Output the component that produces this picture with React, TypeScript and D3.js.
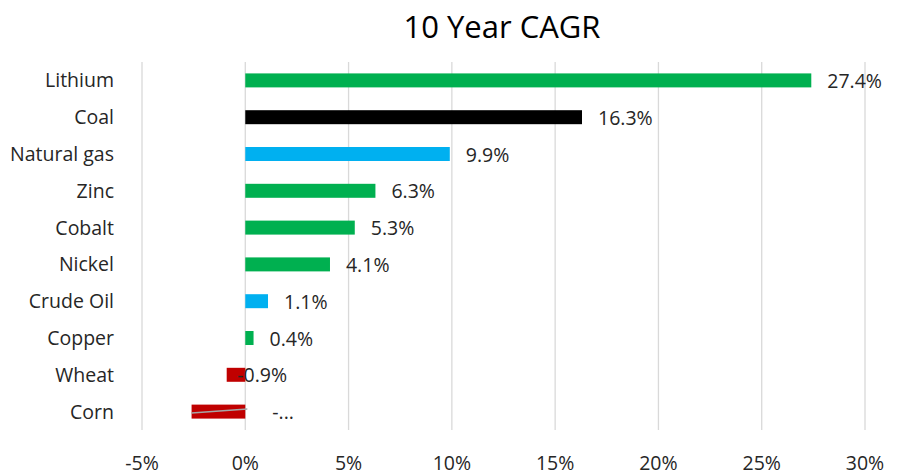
import React from "react";
import * as d3 from "d3";

const categories = ["Lithium", "Coal", "Natural gas", "Zinc", "Cobalt", "Nickel", "Crude Oil", "Copper", "Wheat", "Corn"];
const values = [27.4, 16.3, 9.9, 6.3, 5.3, 4.1, 1.1, 0.4, -0.9, -2.6];
const labels = ["27.4%", "16.3%", "9.9%", "6.3%", "5.3%", "4.1%", "1.1%", "0.4%", "-0.9%", "-..."];
const colors = ["#00B050", "#000000", "#00B0F0", "#00B050", "#00B050", "#00B050", "#00B0F0", "#00B050", "#C00000", "#C00000"];
const ticks = [-5, 0, 5, 10, 15, 20, 25, 30];

const W = 913, H = 476;
const FONT = "'Open Sans', 'Liberation Sans', sans-serif";

export default function App() {
  const x = d3.scaleLinear().domain([-5, 30]).range([142, 865]);
  const y = d3.scaleBand().domain(categories).range([62, 430]).paddingInner(0.62).paddingOuter(0.31);
  const bw = y.bandwidth();
  return (
    <svg width={W} height={H} style={{ position: "absolute", left: 0, top: 0, background: "#fff" }}>
      <text x={502} y={38} textAnchor="middle" fontFamily={FONT} fontSize={31} fill="#000">10 Year CAGR</text>
      {ticks.map((t) => (
        <g key={t}>
          <line x1={x(t)} x2={x(t)} y1={62} y2={430} stroke="#d9d9d9" strokeWidth={1.3} />
          <text x={x(t)} y={470} textAnchor="middle" fontFamily={FONT} fontSize={19.5} fill="#262626">{t}%</text>
        </g>
      ))}
      {categories.map((c, i) => {
        const v = values[i];
        const yc = (y(c) as number) + bw / 2;
        const x0 = x(Math.min(0, v));
        const x1 = x(Math.max(0, v));
        let lx = x(v) + 16;
        if (v < 0) lx = i === 8 ? x(0) - 8 : x(0) + 27;
        return (
          <g key={c}>
            <text x={114} y={yc + 7} textAnchor="end" fontFamily={FONT} fontSize={19.5} fill="#262626">{c}</text>
            <rect x={x0} y={yc - bw / 2} width={x1 - x0} height={bw} fill={colors[i]} />
            <text x={lx} y={yc + 7.5} fontFamily={FONT} fontSize={19.5} fill="#262626">{labels[i]}</text>
          </g>
        );
      })}
      {(() => {
        const yc = (y("Corn") as number) + bw / 2;
        return <line x1={x(-2.6)} y1={yc + 1.5} x2={x(0.1)} y2={yc - 2.5} stroke="#a6a6a6" strokeWidth={1.5} />;
      })()}
    </svg>
  );
}
